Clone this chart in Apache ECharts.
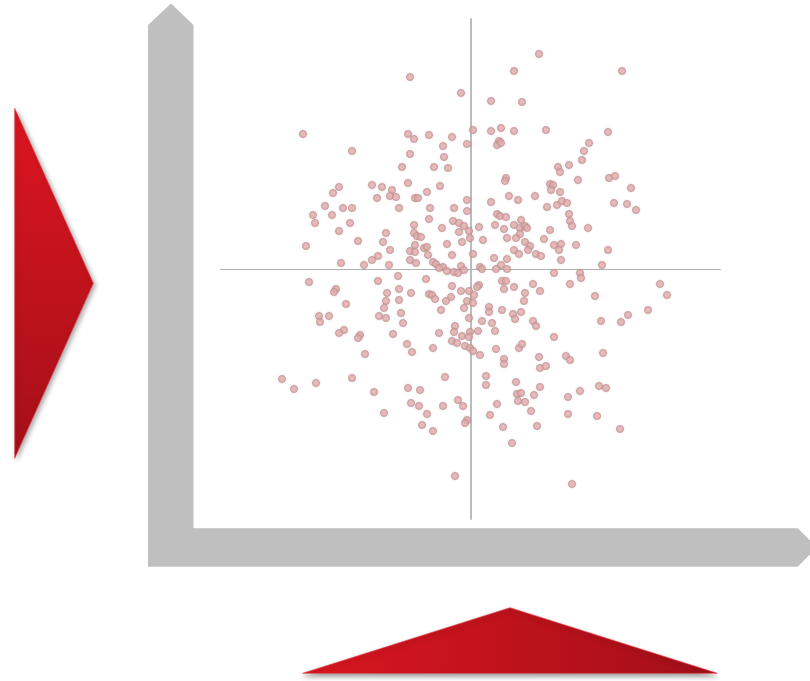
<!DOCTYPE html>
<html>
<head>
<meta charset="utf-8">
<script src="https://cdn.jsdelivr.net/npm/echarts@6/dist/echarts.min.js"></script>
<style>
html,body{margin:0;padding:0;background:#fff;}
#chart{width:810px;height:681px;}
</style>
</head>
<body>
<div id="chart"></div>
<script>
const xValues = [
-1.21,-0.19,-3.35,-1.25,-1.13,-0.83,-0.37,-0.07,-0.55,-2.37,
-1.21,-0.53,-1.37,-0.73,-0.45,-2.63,-1.97,-1.77,-1.25,-0.61,
1.37,0.87,3.03,0.41,1.03,0.05,0.41,0.61,0.87,1.51,
2.75,0.57,0.53,0.61,2.37,2.27,2.23,1.75,1.79,1.97,
0.71,0.69,2.15,2.77,2.89,3.21,1.59,1.65,1.61,1.79,
-2.75,-1.57,-1.61,-1.49,-1.87,-0.87,-1.11,-1.05,-0.07,-2.91,
-2.55,-2.37,-1.43,-0.81,-0.33,-0.07,-3.15,-2.77,-3.11,-2.41,
-0.83,-0.35,-0.23,-0.13,-0.03,-1.13,-0.57,-2.63,-1.69,-1.13,
-1.07,-0.99,-0.23,-0.01,-2.25,-1.75,-0.17,-0.47,-3.29,-1.11,
-0.93,-0.87,-1.61,-1.21,-1.11,-0.85,-0.37,0.05,-1.85,-1.97,
-1.21,-1.09,-0.75,-0.69,-0.55,-0.63,-0.47,-2.59,-2.13,-1.63,
-0.33,-0.25,-0.19,-0.13,-1.45,-0.89,-3.23,-1.85,-2.69,-2.73,
-0.37,-1.67,-1.43,-1.19,-0.83,-0.77,-0.71,-0.19,-0.03,-0.39,
-0.49,-1.43,-1.69,-2.49,-0.07,0.05,-1.73,-0.59,-0.13,-1.39,
-3.03,-3.01,-2.83,-1.83,-1.69,-0.03,-1.35,-0.31,-2.53,-2.63,
-2.21,-1.55,-0.63,-0.33,-0.17,-0.01,0.77,0.95,1.29,0.41,
1.53,1.73,1.83,1.93,2.87,3.13,3.31,0.53,0.59,0.71,
1.97,1.99,2.03,1.01,0.49,0.87,0.99,1.09,1.13,0.17,
0.67,2.35,1.59,0.99,0.73,0.91,0.25,1.47,1.09,1.19,
1.67,1.81,1.77,2.11,2.75,0.87,0.97,1.15,1.31,1.41,
1.81,0.47,0.73,0.61,0.19,0.23,0.51,0.73,2.63,1.67,
2.19,2.21,0.63,0.71,0.67,0.87,0.17,0.13,1.25,1.99,
3.79,3.93,1.09,1.39,2.49,1.07,0.37,0.37,0.63,1.01,
0.85,0.89,3.55,3.15,3.01,2.61,0.23,0.43,1.25,1.31,
0.49,0.15,0.07,-2.25,-1.27,-1.17,-0.75,-0.37,-0.27,-0.03,
-0.11,-0.01,0.05,-2.11,-3.77,-3.53,-3.09,-2.37,-1.93,-1.25,
-1.01,-0.51,-1.19,-1.03,-0.87,-0.55,-0.25,-0.15,-1.73,-0.97,
-0.75,-0.07,-0.11,-0.31,1.67,0.19,0.51,0.97,1.03,0.67,
0.67,1.37,1.39,1.51,1.91,1.99,2.65,0.31,0.31,0.91,
1.39,0.93,1.01,1.27,0.95,1.09,2.19,2.57,2.71,1.95,
0.53,0.39,1.21,1.95,2.53,2.99,0.65,1.33,0.83,2.03
];
const yValues = [
3.84,3.52,2.70,2.70,2.60,2.68,2.64,2.50,2.46,2.36,
2.30,2.24,2.04,2.04,2.02,1.64,1.68,1.64,1.72,1.66,
4.30,3.96,3.96,3.36,3.34,2.78,2.76,2.82,2.76,2.78,
2.74,2.56,2.48,2.52,2.52,2.36,2.18,2.04,1.94,2.08,
1.82,1.76,1.78,1.82,1.86,1.62,1.70,1.68,1.58,1.54,
1.52,1.58,1.46,1.44,1.42,1.54,1.42,1.42,1.38,1.26,
1.22,1.22,1.22,1.22,1.22,1.16,1.08,1.08,0.92,0.92,
1.00,0.96,0.92,0.86,0.76,0.88,0.82,0.76,0.72,0.72,
0.66,0.64,0.74,0.62,0.56,0.54,0.54,0.50,0.46,0.48,
0.42,0.44,0.38,0.36,0.34,0.28,0.28,0.30,0.26,0.18,
0.18,0.12,0.14,0.10,0.04,0.02,-0.04,0.12,0.08,0.08,
-0.06,-0.08,0.06,-0.02,-0.14,-0.20,-0.26,-0.24,-0.40,-0.46,
-0.34,-0.48,-0.40,-0.48,-0.50,-0.52,-0.60,-0.44,-0.44,-0.56,
-0.64,-0.62,-0.64,-0.70,-0.64,-0.68,-0.78,-0.82,-0.78,-0.88,
-0.94,-1.06,-0.94,-0.94,-0.98,-0.98,-1.08,-1.14,-1.22,-1.28,
-1.32,-1.30,-1.28,-1.26,-1.34,-1.26,1.46,1.38,1.46,1.34,
1.24,1.28,1.36,1.32,1.32,1.30,1.18,1.10,1.06,1.04,
1.10,0.96,0.86,0.98,0.88,0.88,0.82,0.86,0.82,0.84,
0.80,0.82,0.78,0.70,0.62,0.62,0.58,0.60,0.54,0.46,
0.48,0.50,0.38,0.48,0.38,0.38,0.30,0.38,0.30,0.26,
0.18,0.22,0.20,0.08,0.04,0.00,0.00,0.00,0.08,-0.08,
-0.08,-0.18,-0.24,-0.24,-0.40,-0.36,-0.32,-0.36,-0.30,-0.30,
-0.30,-0.52,-0.48,-0.44,-0.54,-0.64,-0.76,-0.86,-0.82,-0.86,
-0.90,-1.00,-0.82,-0.92,-1.06,-1.04,-1.04,-1.08,-1.04,-1.14,
-1.24,-1.24,-0.52,-1.38,-1.50,-1.66,-1.58,-1.44,-1.48,-1.36,
-1.54,-1.58,-1.64,-1.70,-2.20,-2.40,-2.28,-2.18,-2.46,-2.38,
-2.42,-2.16,-2.68,-2.74,-2.90,-2.74,-2.62,-2.74,-2.88,-3.12,
-3.24,-3.02,-3.08,-4.14,-1.36,-1.72,-1.60,-1.58,-1.50,-1.80,
-1.90,-1.76,-1.98,-1.94,-1.74,-1.82,-1.68,-2.14,-2.32,-2.26,
-2.36,-2.50,-2.48,-2.52,-2.64,-2.66,-2.44,-2.34,-2.38,-2.56,
-2.70,-2.92,-2.84,-2.90,-2.94,-3.20,-3.16,-3.14,-3.48,-4.30
];
const axisMin = -5;
const axisMax = 5;

const points = xValues.map((x, i) => [x, yValues[i]]);

const chart = echarts.init(document.getElementById('chart'), null, {renderer: 'canvas'});

const grayL = [[148,25],[171,3.5],[193.5,25],[193.5,528.3],[797.7,528.3],[817,547.5],[797.7,566.7],[148,566.7]];
const leftTri = [[14.7,108.3],[93.3,283.3],[14.7,458.3]];
const bottomTri = [[302.7,673.3],[510,607.7],[717.3,673.3]];

chart.setOption({
  animation: false,
  backgroundColor: '#ffffff',
  grid: {left: 220.5, top: 19, width: 500, height: 500},
  xAxis: {
    type: 'value', min: axisMin, max: axisMax,
    axisLine: {show: true, onZero: true, lineStyle: {color: '#b0b0b0', width: 1}},
    axisTick: {show: false}, axisLabel: {show: false}, splitLine: {show: false}
  },
  yAxis: {
    type: 'value', min: axisMin, max: axisMax,
    axisLine: {show: true, onZero: true, lineStyle: {color: '#bcbcbc', width: 2}},
    axisTick: {show: false}, axisLabel: {show: false}, splitLine: {show: false}
  },
  graphic: [
    {type: 'polygon', z: 1, shape: {points: grayL}, style: {fill: '#bfbfbf'}},
    {type: 'polygon', z: 1, shape: {points: leftTri}, style: {
      fill: new echarts.graphic.LinearGradient(0, 0, 0, 1, [
        {offset: 0, color: '#dc1621'}, {offset: 1, color: '#a50f18'}]),
      stroke: 'rgba(230,60,70,0.6)', lineWidth: 1,
      shadowBlur: 5, shadowOffsetX: 2, shadowOffsetY: 2, shadowColor: 'rgba(0,0,0,0.35)'}},
    {type: 'polygon', z: 1, shape: {points: bottomTri}, style: {
      fill: new echarts.graphic.LinearGradient(0, 0, 1, 0, [
        {offset: 0, color: '#da1620'}, {offset: 1, color: '#a20f18'}]),
      stroke: 'rgba(230,60,70,0.6)', lineWidth: 1,
      shadowBlur: 5, shadowOffsetX: 0, shadowOffsetY: 3, shadowColor: 'rgba(0,0,0,0.4)'}}
  ],
  series: [{
    type: 'scatter',
    data: points,
    symbol: 'circle',
    symbolSize: 7,
    itemStyle: {color: '#e8b2b2', borderColor: '#c99292', borderWidth: 1,
      shadowBlur: 2, shadowColor: 'rgba(0,0,0,0.15)'},
    emphasis: {disabled: true}
  }]
});
</script>
</body>
</html>
